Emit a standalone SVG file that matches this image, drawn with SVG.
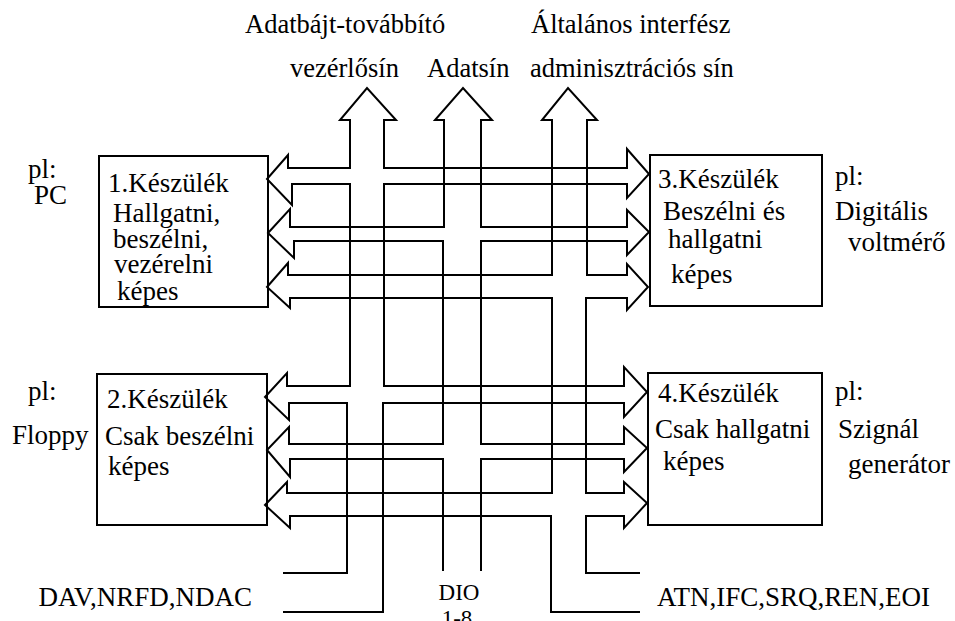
<svg xmlns="http://www.w3.org/2000/svg" width="955" height="621" viewBox="0 0 955 621">
<style>
.w{fill:none;stroke:#000;stroke-width:2;stroke-linejoin:miter;stroke-miterlimit:10}
text{font-family:"Liberation Serif","Times New Roman",serif;font-size:27px;fill:#000}
.t{font-size:26.5px}
.d{font-size:23px;text-anchor:middle}
</style>
<rect width="955" height="621" fill="#fff"/>
<g id="connectors">
<path id="control-bus" class="w" d="M283,573 H347 V403 H289 V420 L265,397 L287,373 V386 H350 V184 H292 V205 L267,179 L288,155 V168 H350 V120 H340 L367,88 L396,120 H384 V168 H627 V149 L649,174 L627,198 V184 H384 V386 H624 V367 L647,392 L624,417 V403 H383 V612 H283"/>
<path id="data-bus" class="w" d="M443,571 V459 H290 V477 L267,450 L289,427 V444 H443 V241 H294 V258 L268,233 L290,209 V227 H444 V120 H435 L463,88 L492,120 H481 V227 H627 V210 L649,232 L627,255 V241 H481 V444 H624 V427 L647,448 L624,472 V459 H481 V571"/>
<path id="mgmt-bus" class="w" d="M640,612 H551 V516 H290 V528 L265,505 L287,482 V493 H552 V298 H290 V308 L267,287 L288,263 V275 H552 V120 H542 L568,88 L597,120 H587 V275 H627 V264 L648,287 L627,310 V298 H586 V493 H624 V482 L647,503 L624,528 V516 H586 V573 H640"/>
</g>
<g id="dev1">
<rect class="w" x="99" y="156" width="169" height="151"/>
<text x="108" y="192">1.Készülék</text>
<text x="113" y="222">Hallgatni,</text>
<text x="113" y="248">beszélni,</text>
<text x="114" y="273">vezérelni</text>
<text x="117" y="300">képes</text>
</g>
<g id="dev2">
<rect class="w" x="97" y="374" width="170" height="151"/>
<text x="107" y="408">2.Készülék</text>
<text x="105" y="445">Csak beszélni</text>
<text x="108" y="475">képes</text>
</g>
<g id="dev3">
<rect class="w" x="650" y="155" width="172" height="151"/>
<text x="658" y="188">3.Készülék</text>
<text x="663" y="220">Beszélni és</text>
<text x="668" y="248">hallgatni</text>
<text x="671" y="283">képes</text>
</g>
<g id="dev4">
<rect class="w" x="648" y="373" width="174" height="152"/>
<text x="658" y="402">4.Készülék</text>
<text x="655" y="438">Csak hallgatni</text>
<text x="663" y="470">képes</text>
</g>
<g id="labels">
<text class="t" x="245" y="33">Adatbájt-továbbító</text>
<text class="t" x="290" y="77">vezérlősín</text>
<text class="t" x="427" y="77">Adatsín</text>
<text class="t" x="531" y="33">Általános interfész</text>
<text class="t" x="530" y="77">adminisztrációs sín</text>
<text x="28" y="178">pl:</text>
<text x="34" y="204">PC</text>
<text x="835" y="185">pl:</text>
<text x="835" y="220">Digitális</text>
<text x="848" y="251">voltmérő</text>
<text x="28" y="400">pl:</text>
<text x="12" y="444">Floppy</text>
<text x="835" y="400">pl:</text>
<text x="838" y="438">Szignál</text>
<text x="848" y="473">generátor</text>
<text x="252" y="606" text-anchor="end">DAV,NRFD,NDAC</text>
<text class="d" x="459" y="600">DIO</text>
<text class="d" x="457" y="626">1-8</text>
<text x="657" y="606">ATN,IFC,SRQ,REN,EOI</text>
</g>
</svg>
